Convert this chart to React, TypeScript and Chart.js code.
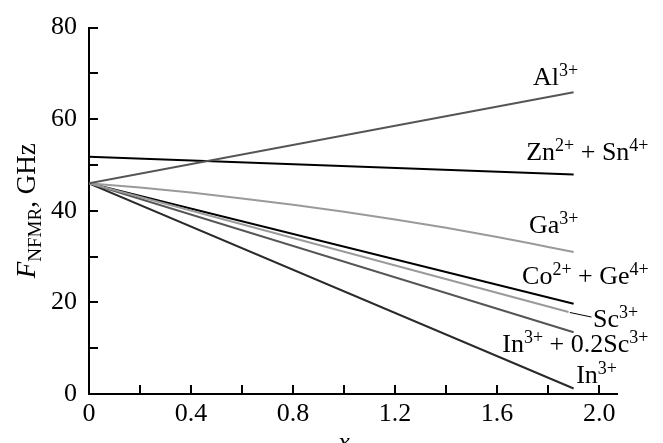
import React, { useEffect, useRef } from 'react';
import { Chart, registerables } from 'chart.js';

Chart.register(...registerables);

// ---- data ----
const xEnds = [0, 1.9];
const alValues = [46, 65.9];
const znSnValues = [51.8, 47.9];
const coGeValues = [46, 19.7];
const scX = [0, 1.88];
const scValues = [46, 17.9];
const inScValues = [46, 13.5];
const inValues = [46, 1.2];
const gaX = [0, 0.2, 0.4, 0.6, 0.8, 1.0, 1.2, 1.4, 1.6, 1.8, 1.9];
const gaValues = [46, 45.1, 44.0, 42.7, 41.3, 39.8, 38.1, 36.3, 34.3, 32.1, 31.0];

const xTickValues = [0, 0.2, 0.4, 0.6, 0.8, 1.0, 1.2, 1.4, 1.6, 1.8, 2.0];
const yTickValues = [0, 10, 20, 30, 40, 50, 60, 70, 80];

type Seg = { t: string; sup?: boolean; sub?: boolean; italic?: boolean };

const seriesLabels: { x: number; y: number; segs: Seg[] }[] = [
  { x: 1.741, y: 67.5, segs: [{ t: 'Al' }, { t: '3+', sup: true }] },
  { x: 1.714, y: 51.2, segs: [{ t: 'Zn' }, { t: '2+', sup: true }, { t: ' + ' }, { t: 'Sn' }, { t: '4+', sup: true }] },
  { x: 1.725, y: 35.1, segs: [{ t: 'Ga' }, { t: '3+', sup: true }] },
  { x: 1.698, y: 24.1, segs: [{ t: 'Co' }, { t: '2+', sup: true }, { t: ' + ' }, { t: 'Ge' }, { t: '4+', sup: true }] },
  { x: 1.976, y: 14.7, segs: [{ t: 'Sc' }, { t: '3+', sup: true }] },
  { x: 1.62, y: 9.1, segs: [{ t: 'In' }, { t: '3+', sup: true }, { t: ' + ' }, { t: '0.2Sc' }, { t: '3+', sup: true }] },
  { x: 1.91, y: 2.4, segs: [{ t: 'In' }, { t: '3+', sup: true }] },
];

const scLeader = { x: [1.885, 1.97], y: [17.8, 16.8] };

const FONT = '"Liberation Serif", "Times New Roman", serif';

function segFont(s: Seg, main: number, small: number) {
  const size = s.sup || s.sub ? small : main;
  return `${s.italic ? 'italic ' : ''}${size}px ${FONT}`;
}

function drawRich(ctx: CanvasRenderingContext2D, x: number, y: number, segs: Seg[], main = 26, small = 18) {
  let cx = x;
  ctx.textBaseline = 'alphabetic';
  ctx.textAlign = 'left';
  for (const s of segs) {
    ctx.font = segFont(s, main, small);
    const dy = s.sup ? -9 : s.sub ? 6 : 0;
    ctx.fillText(s.t, cx, y + dy);
    cx += ctx.measureText(s.t).width;
  }
}

function richWidth(ctx: CanvasRenderingContext2D, segs: Seg[], main = 26, small = 18) {
  let w = 0;
  for (const s of segs) {
    ctx.font = segFont(s, main, small);
    w += ctx.measureText(s.t).width;
  }
  return w;
}

const decorPlugin = {
  id: 'decor',
  afterDraw(chart: any) {
    const ctx: CanvasRenderingContext2D = chart.ctx;
    const xs = chart.scales.x;
    const ys = chart.scales.y;
    const { left, bottom } = chart.chartArea;
    ctx.save();
    ctx.strokeStyle = '#000';
    ctx.lineWidth = 2;
    ctx.beginPath();
    for (const v of xTickValues) {
      const px = Math.round(xs.getPixelForValue(v));
      ctx.moveTo(px, bottom);
      ctx.lineTo(px, bottom - 9);
    }
    for (const v of yTickValues) {
      const py = Math.round(ys.getPixelForValue(v));
      ctx.moveTo(left, py);
      ctx.lineTo(left + 9, py);
    }
    ctx.stroke();

    // leader line for Sc
    ctx.lineWidth = 1;
    ctx.beginPath();
    ctx.moveTo(xs.getPixelForValue(scLeader.x[0]), ys.getPixelForValue(scLeader.y[0]));
    ctx.lineTo(xs.getPixelForValue(scLeader.x[1]), ys.getPixelForValue(scLeader.y[1]));
    ctx.stroke();

    ctx.fillStyle = '#000';
    for (const l of seriesLabels) {
      drawRich(ctx, xs.getPixelForValue(l.x), ys.getPixelForValue(l.y), l.segs);
    }

    // y title
    const ySegs: Seg[] = [{ t: 'F', italic: true }, { t: 'NFMR', sub: true }, { t: ', GHz' }];
    const w = richWidth(ctx, ySegs, 27, 19);
    ctx.save();
    ctx.translate(35, (chart.chartArea.top + chart.chartArea.bottom) / 2);
    ctx.rotate(-Math.PI / 2);
    drawRich(ctx, -w / 2, 0, ySegs, 27, 19);
    ctx.restore();

    // x title
    ctx.font = `italic 26px ${FONT}`;
    ctx.textAlign = 'center';
    ctx.textBaseline = 'alphabetic';
    ctx.fillText('x', xs.getPixelForValue(1.0), 450);
    ctx.restore();
  },
};

function pts(xv: number[], yv: number[]) {
  return xv.map((x, i) => ({ x, y: yv[i] }));
}

export default function App() {
  const ref = useRef<HTMLCanvasElement | null>(null);
  useEffect(() => {
    document.body.style.margin = '0';
    const canvas = ref.current!;
    const line = (label: string, data: any, color: string) => ({
      label,
      data,
      borderColor: color,
      backgroundColor: color,
      borderWidth: 2,
      pointRadius: 0,
      fill: false,
      tension: 0,
    });
    const chart = new Chart(canvas, {
      type: 'line',
      data: {
        datasets: [
          line('Al3+', pts(xEnds, alValues), '#555555'),
          line('Zn2+ + Sn4+', pts(xEnds, znSnValues), '#000000'),
          { ...line('Ga3+', pts(gaX, gaValues), '#9a9a9a'), cubicInterpolationMode: 'monotone' },
          line('Sc3+', pts(scX, scValues), '#9a9a9a'),
          line('In3+ + 0.2Sc3+', pts(xEnds, inScValues), '#555555'),
          line('Co2+ + Ge4+', pts(xEnds, coGeValues), '#000000'),
          line('In3+', pts(xEnds, inValues), '#2a2a2a'),
        ] as any,
      },
      options: {
        responsive: false,
        animation: false,
        layout: { padding: { top: 25, right: 46, left: 0, bottom: 0 } },
        plugins: { legend: { display: false }, tooltip: { enabled: false } },
        scales: {
          x: {
            type: 'linear',
            min: 0,
            max: 2.07,
            grid: { display: false, drawTicks: false },
            border: { display: true, color: '#000', width: 2 },
            ticks: {
              stepSize: 0.2,
              includeBounds: false,
              autoSkip: false,
              maxRotation: 0,
              padding: 5,
              color: '#000',
              font: { family: FONT, size: 26 },
              callback: (v: any) => {
                const n = Number(v);
                const r = n / 0.4;
                if (Math.abs(r - Math.round(r)) > 1e-6) return '';
                return n === 0 ? '0' : n.toFixed(1);
              },
            },
            afterFit: (s: any) => {
              s.height = 49;
            },
          },
          y: {
            type: 'linear',
            min: 0,
            max: 80,
            grid: { display: false, drawTicks: false },
            border: { display: true, color: '#000', width: 2 },
            ticks: {
              stepSize: 10,
              autoSkip: false,
              padding: 12,
              color: '#000',
              font: { family: FONT, size: 26 },
              callback: (v: any) => (Number(v) % 20 === 0 ? String(v) : ''),
            },
            afterFit: (s: any) => {
              s.width = 89;
            },
          },
        },
      },
      plugins: [decorPlugin],
    });
    return () => chart.destroy();
  }, []);
  return <canvas ref={ref} width={663} height={443} style={{ display: 'block', width: 663, height: 443 }} />;
}
